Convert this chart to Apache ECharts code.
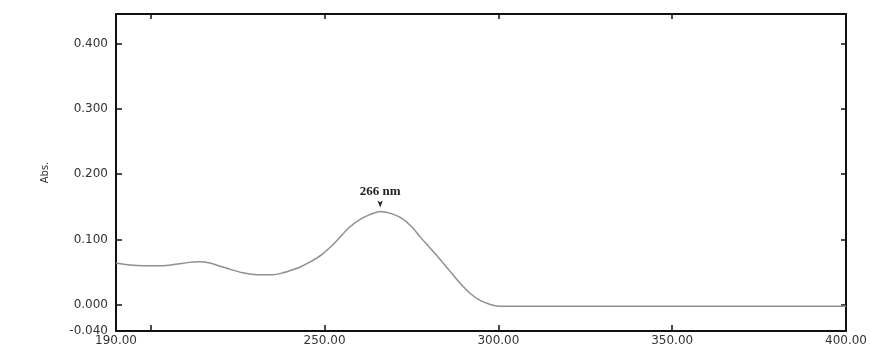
<!DOCTYPE html>
<html>
<head>
<meta charset="utf-8">
<script src="https://cdn.jsdelivr.net/npm/echarts@6/dist/echarts.min.js"></script>
<style>
  html, body { margin: 0; padding: 0; background: #fff; }
  #chart { width: 871px; height: 349px; }
</style>
</head>
<body>
<div id="chart"></div>
<script>
// UV absorption spectrum (wavelength in nm, absorbance)
const wavelength = [190, 194, 198, 203, 207, 211, 214, 217, 220, 223, 226.5, 229, 232, 235, 238, 241, 243, 246, 249, 252, 254, 257, 260, 263, 266, 269, 272, 275, 277.5, 280, 283, 286, 289, 292, 295, 297.5, 300, 305, 310, 320, 340, 360, 380, 400];
const absorbance = [0.064, 0.061, 0.060, 0.060, 0.062, 0.065, 0.066, 0.064, 0.059, 0.054, 0.049, 0.047, 0.046, 0.046, 0.049, 0.054, 0.058, 0.066, 0.076, 0.090, 0.101, 0.118, 0.130, 0.138, 0.143, 0.140, 0.133, 0.120, 0.104, 0.089, 0.071, 0.052, 0.033, 0.017, 0.006, 0.001, -0.002, -0.002, -0.002, -0.002, -0.002, -0.002, -0.002, -0.002];

// Axis ticks and labels
const xTickValues = [200, 250, 300, 350];
const xLabelValues = [190, 250, 300, 350, 400];
const yTickValues = [0, 0.1, 0.2, 0.3, 0.4];
const yLabelValues = [-0.04, 0, 0.1, 0.2, 0.3, 0.4];

// Absorption maximum
const peakWavelength = 266;
const peakAbs = 0.143;

const xMin = 190, xMax = 400, yMin = -0.04, yMax = 0.445;

const frameLine = { show: true, onZero: false, lineStyle: { color: '#111', width: 2 } };
const tickStyle = { color: '#111', width: 1.5 };
const labelFont = { fontFamily: 'DejaVu Sans', fontSize: 12, color: '#333' };

const chart = echarts.init(document.getElementById('chart'), null, { renderer: 'canvas' });

chart.setOption({
  animation: false,
  backgroundColor: '#fff',
  grid: { left: 116, right: 25, top: 14, bottom: 18, containLabel: false },
  xAxis: [
    {
      type: 'value', position: 'bottom', min: xMin, max: xMax,
      axisLine: frameLine,
      axisTick: { show: true, inside: true, length: 6, customValues: xTickValues, lineStyle: tickStyle },
      axisLabel: Object.assign({ show: true, margin: 4, customValues: xLabelValues,
        formatter: v => v.toFixed(2) }, labelFont),
      splitLine: { show: false }
    },
    {
      type: 'value', position: 'top', min: xMin, max: xMax,
      axisLine: frameLine,
      axisTick: { show: true, inside: true, length: 5, customValues: xTickValues, lineStyle: tickStyle },
      axisLabel: { show: false },
      splitLine: { show: false }
    }
  ],
  yAxis: [
    {
      type: 'value', position: 'left', min: yMin, max: yMax,
      name: 'Abs.', nameLocation: 'middle', nameRotate: 90, nameGap: 66,
      nameTextStyle: { fontFamily: 'DejaVu Sans', fontSize: 10, color: '#333' },
      axisLine: frameLine,
      axisTick: { show: true, inside: true, length: 6, customValues: yTickValues, lineStyle: tickStyle },
      axisLabel: Object.assign({ show: true, margin: 8, customValues: yLabelValues,
        formatter: v => v.toFixed(3) }, labelFont),
      splitLine: { show: false }
    },
    {
      type: 'value', position: 'right', min: yMin, max: yMax,
      axisLine: frameLine,
      axisTick: { show: true, inside: true, length: 5, customValues: yTickValues, lineStyle: tickStyle },
      axisLabel: { show: false },
      splitLine: { show: false }
    }
  ],
  series: [
    {
      type: 'line',
      xAxisIndex: 0, yAxisIndex: 0,
      data: wavelength.map((w, i) => [w, absorbance[i]]),
      smooth: 0.3,
      showSymbol: false,
      lineStyle: { color: '#8f8f8f', width: 1.5 },
      markPoint: {
        silent: true,
        data: [{ coord: [peakWavelength, peakAbs] }],
        symbol: 'arrow',
        symbolSize: [4, 7],
        symbolRotate: 180,
        symbolOffset: [0, -4],
        itemStyle: { color: '#222' },
        label: {
          show: true, position: 'top', distance: 2,
          formatter: () => peakWavelength + ' nm',
          fontFamily: 'Liberation Serif', fontWeight: 'bold', fontSize: 13, color: '#222'
        }
      }
    }
  ]
});
</script>
</body>
</html>
